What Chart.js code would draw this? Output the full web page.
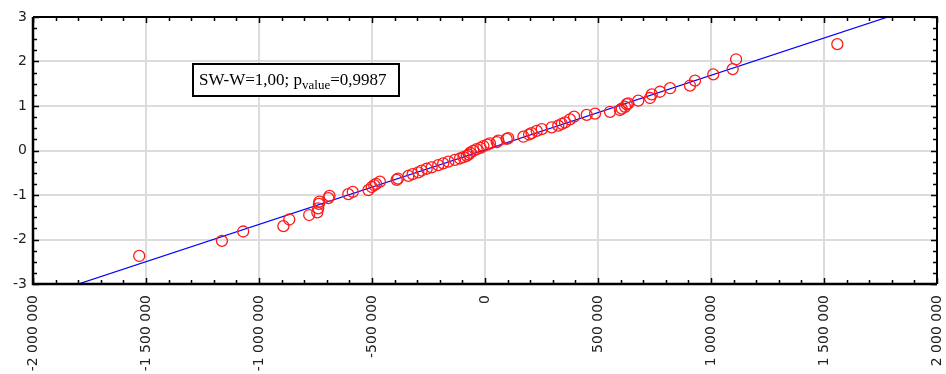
<!DOCTYPE html>
<html>
<head>
<meta charset="utf-8">
<script src="https://cdn.jsdelivr.net/npm/chart.js@4.4.1/dist/chart.umd.min.js"></script>
<style>
  html, body { margin: 0; padding: 0; background: #fff; }
  #wrap { width: 946px; height: 374px; }
</style>
</head>
<body>
<div id="wrap"><canvas id="qq"></canvas></div>
<script>
// Normal probability plot: observed residual vs expected normal value
const residuals = [
    -1530000, -1164000, -1070000, -892000, -866000, -778000, -742000, -738000, -735000, -733000,
    -693000, -688000, -605000, -585000, -516000, -501000, -490000, -482000, -465000, -391000,
    -385000, -339000, -320000, -295000, -280000, -258000, -236000, -207000, -185000, -162000,
    -133000, -111000, -95000, -81000, -72000, -66000, -52000, -37000, -20000, -7000,
    10000, 22000, 52000, 59000, 96000, 103000, 170000, 195000, 206000, 229000,
    251000, 295000, 324000, 340000, 354000, 376000, 394000, 450000, 487000, 553000,
    597000, 605000, 620000, 627000, 634000, 678000, 730000, 738000, 774000, 819000,
    907000, 929000, 1010000, 1096000, 1111000, 1559000
];
const expectedNormal = [
    -2.37, -2.03, -1.82, -1.70, -1.55, -1.45, -1.39, -1.30, -1.20, -1.15,
    -1.07, -1.02, -0.98, -0.93, -0.89, -0.82, -0.78, -0.75, -0.70, -0.66,
    -0.63, -0.57, -0.53, -0.49, -0.45, -0.41, -0.38, -0.33, -0.29, -0.25,
    -0.21, -0.18, -0.15, -0.12, -0.09, -0.05, -0.01, 0.03, 0.06, 0.10,
    0.13, 0.16, 0.19, 0.22, 0.26, 0.28, 0.31, 0.36, 0.39, 0.44,
    0.48, 0.52, 0.56, 0.60, 0.63, 0.70, 0.76, 0.80, 0.83, 0.87,
    0.91, 0.94, 0.98, 1.04, 1.06, 1.12, 1.18, 1.26, 1.32, 1.40,
    1.46, 1.57, 1.71, 1.83, 2.05, 2.39
];

// fitted line end points
const fitX = [-1800000, 1783000];
const fitY = [-3, 3];

// axis ticks
const xTicks = [-2000000, -1500000, -1000000, -500000, 0, 500000, 1000000, 1500000, 2000000];
const yTicks = [-3, -2, -1, 0, 1, 2, 3];

const statText = 'SW-W=1,00; p';
const statSub = 'value';
const statTail = '=0,9987';

function spaced(v) {
    const s = String(Math.abs(v)).replace(/\B(?=(\d{3})+(?!\d))/g, ' ');
    return (v < 0 ? '-' : '') + s;
}

// frame, inward ticks and the statistic box
const framePlugin = {
    id: 'frame',
    afterDraw(chart) {
        const { ctx, chartArea: a, scales } = chart;
        const x = scales.x, y = scales.y;
        ctx.save();
        ctx.strokeStyle = '#000';
        ctx.lineWidth = 1.5;
        ctx.beginPath();
        for (let i = -20; i <= 20; i++) {
            const px = Math.round(x.getPixelForValue(i * 100000)) + 0.5;
            const len = i % 5 === 0 ? 6 : 4;
            ctx.moveTo(px, a.bottom); ctx.lineTo(px, a.bottom - len);
            ctx.moveTo(px, a.top); ctx.lineTo(px, a.top + len);
        }
        for (let i = -12; i <= 12; i++) {
            const py = Math.round(y.getPixelForValue(i * 0.25)) + 0.5;
            const len = i % 4 === 0 ? 6 : 4;
            ctx.moveTo(a.left, py); ctx.lineTo(a.left + len, py);
            ctx.moveTo(a.right, py); ctx.lineTo(a.right - len, py);
        }
        ctx.stroke();

        ctx.lineWidth = 2.5;
        ctx.beginPath();
        ctx.moveTo(a.left, a.top); ctx.lineTo(a.left, a.bottom); ctx.lineTo(a.right, a.bottom);
        ctx.stroke();
        ctx.lineWidth = 2;
        ctx.beginPath();
        ctx.moveTo(a.left, a.top); ctx.lineTo(a.right, a.top); ctx.lineTo(a.right, a.bottom);
        ctx.stroke();

        // statistic box
        const bx = 193, by = 64, bw = 206, bh = 32;
        ctx.fillStyle = '#fff';
        ctx.fillRect(bx, by, bw, bh);
        ctx.lineWidth = 2;
        ctx.strokeRect(bx, by, bw, bh);
        ctx.fillStyle = '#000';
        ctx.textBaseline = 'alphabetic';
        ctx.textAlign = 'left';
        const base = by + 21;
        let tx = bx + 6;
        ctx.font = '17px "Liberation Serif", serif';
        ctx.fillText(statText, tx, base);
        tx += ctx.measureText(statText).width;
        ctx.font = '13px "Liberation Serif", serif';
        ctx.fillText(statSub, tx, base + 4);
        tx += ctx.measureText(statSub).width;
        ctx.font = '17px "Liberation Serif", serif';
        ctx.fillText(statTail, tx, base);
        ctx.restore();
    }
};

const ctx = document.getElementById('qq').getContext('2d');
new Chart(ctx, {
    type: 'scatter',
    data: {
        datasets: [
            {
                label: 'fit',
                type: 'line',
                data: fitX.map((v, i) => ({ x: v, y: fitY[i] })),
                borderColor: '#0000ff',
                borderWidth: 1.3,
                pointRadius: 0,
                fill: false,
                order: 2
            },
            {
                label: 'residuals',
                data: residuals.map((v, i) => ({ x: v, y: expectedNormal[i] })),
                pointStyle: 'circle',
                pointRadius: 5.5,
                borderColor: '#ff1a1a',
                backgroundColor: 'rgba(0,0,0,0)',
                borderWidth: 1.3,
                order: 1
            }
        ]
    },
    options: {
        responsive: true,
        maintainAspectRatio: false,
        animation: false,
        layout: { padding: { top: 17, right: 9, left: 0, bottom: 0 } },
        plugins: {
            legend: { display: false },
            tooltip: { enabled: false }
        },
        scales: {
            x: {
                type: 'linear',
                min: xTicks[0],
                max: xTicks[xTicks.length - 1],
                afterBuildTicks: (scale) => { scale.ticks = xTicks.map(v => ({ value: v })); },
                afterFit: (scale) => {
                    scale.height = 90;
                    scale.paddingLeft = 0;
                    scale.paddingRight = 0;
                },
                grid: { color: '#dcdcdc', lineWidth: 2, drawTicks: false },
                border: { display: false },
                ticks: {
                    minRotation: 90,
                    maxRotation: 90,
                    padding: 11,
                    color: '#222',
                    font: { family: '"DejaVu Sans", sans-serif', size: 14 },
                    callback: (v) => spaced(v)
                }
            },
            y: {
                type: 'linear',
                min: yTicks[0],
                max: yTicks[yTicks.length - 1],
                afterBuildTicks: (scale) => { scale.ticks = yTicks.map(v => ({ value: v })); },
                afterFit: (scale) => {
                    scale.width = 33;
                    scale.paddingTop = 0;
                    scale.paddingBottom = 0;
                },
                grid: { color: '#dcdcdc', lineWidth: 2, drawTicks: false },
                border: { display: false },
                ticks: {
                    padding: 6,
                    color: '#222',
                    font: { family: '"DejaVu Sans", sans-serif', size: 14 },
                    callback: (v) => String(v)
                }
            }
        }
    },
    plugins: [framePlugin]
});
</script>
</body>
</html>
